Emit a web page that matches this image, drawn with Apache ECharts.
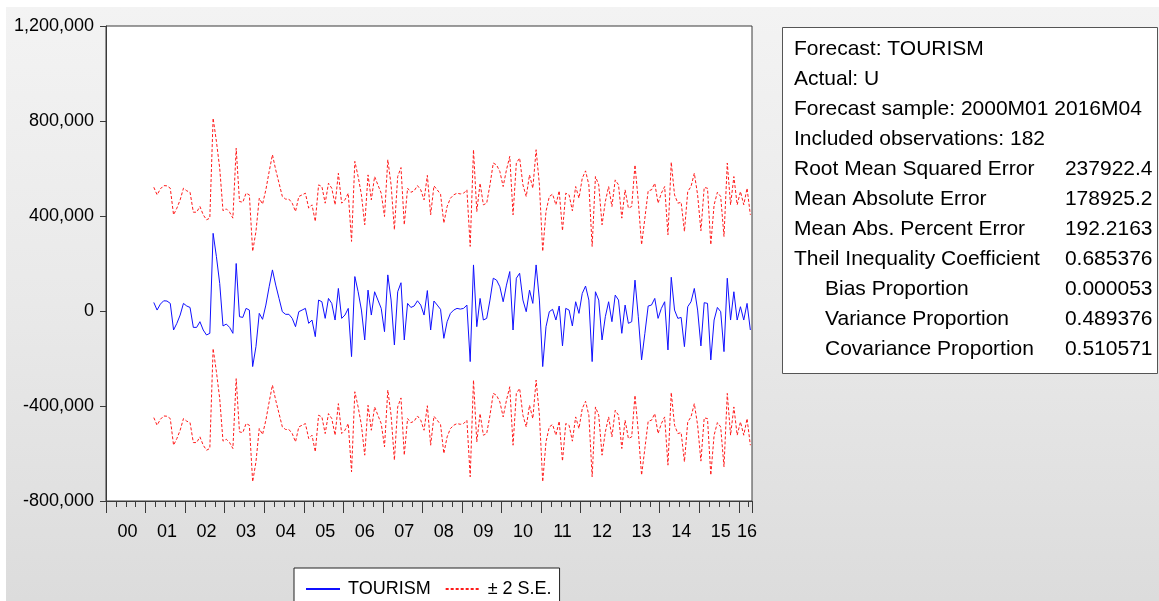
<!DOCTYPE html>
<html>
<head>
<meta charset="utf-8">
<script src="https://cdn.jsdelivr.net/npm/echarts@6/dist/echarts.min.js"></script>
<style>
  html, body { margin: 0; padding: 0; background: #ffffff; }
  #bg { position: absolute; left: 6px; top: 7px; width: 1153px; height: 594px;
        background: linear-gradient(to bottom, #f3f3f3 0%, #e9e9e9 50%, #dcdcdc 100%); }
  #chart { position: absolute; left: 0; top: 0; width: 1159px; height: 601px; }
</style>
</head>
<body>
<div id="bg"></div>
<div id="chart"></div>
<script>
// ---------------- DATA ----------------
const sampleStart = '2000M01';
const sampleEnd = '2016M04';
const firstObs = '2001M03';
// static forecast of TOURISM, 2001M03 .. 2016M04 (182 obs)
const forecast = [
  36000, 4000, 29000, 43000, 42000, 32000, -80000, -52000, -17000, 32000,
  21000, 15000, -69000, -69000, -45000, -80000, -101000, -94000, 327000, 229000,
  116000, -63000, -55000, -69000, -94000, 200000, -24000, -27000, 11000, 4000,
  -234000, -150000, -10000, -35000, 25000, 102000, 173000, 109000, 53000, -3000,
  -14000, -14000, -31000, -66000, -3000, 4000, 11000, -52000, -38000, -108000,
  46000, 39000, -31000, 53000, 32000, -38000, 95000, -31000, -17000, 11000,
  -192000, 145000, 81000, 4000, -122000, 88000, -17000, 81000, 46000, 11000,
  -87000, 152000, 46000, -143000, 81000, 119000, -122000, 32000, 15000, 21000,
  43000, 25000, -17000, 86000, -80000, 42000, 25000, 7000, -115000, -45000,
  -10000, 4000, 11000, 8000, 11000, 25000, -213000, 194000, -66000, 53000,
  -38000, -31000, 46000, 138000, 130000, 102000, 39000, 109000, 166000, -80000,
  138000, 159000, 46000, -3000, 88000, 32000, 194000, 46000, -234000, -66000,
  -3000, 7000, -38000, 21000, -147000, 11000, 4000, -63000, 39000, -10000,
  74000, 105000, 46000, -213000, 81000, 46000, -122000, -24000, 39000, -45000,
  67000, 46000, -94000, 25000, -52000, -45000, 130000, -24000, -206000, -94000,
  21000, 25000, 53000, -31000, 11000, 39000, -164000, 142000, 4000, -31000,
  -27000, -150000, 18000, 39000, 95000, 4000, -147000, 35000, 32000, -206000,
  -38000, 15000, -3000, -171000, 138000, -38000, 81000, -38000, 18000, -38000,
  32000, -80000
];
// two standard errors of the forecast
const twoSE = 485000;

const yTicks = [-800000, -400000, 0, 400000, 800000, 1200000];

const statLabels = [
  'Forecast: TOURISM', 'Actual: U', 'Forecast sample: 2000M01 2016M04',
  'Included observations: 182', 'Root Mean Squared Error', 'Mean Absolute Error',
  'Mean Abs. Percent Error', 'Theil Inequality Coefficient', 'Bias Proportion',
  'Variance Proportion', 'Covariance Proportion'
];
const statValues = [
  '', '', '', '', '237922.4', '178925.2', '192.2163', '0.685376',
  '0.000053', '0.489376', '0.510571'
];
const statIndented = [false, false, false, false, false, false, false, false, true, true, true];

const legendNames = ['TOURISM', '\u00b1 2 S.E.'];

// ---------------- BUILD ----------------
const months = [];
(function () {
  const [sy, sm] = sampleStart.split('M').map(Number);
  const [ey, em] = sampleEnd.split('M').map(Number);
  for (let y = sy; y <= ey; y++) {
    for (let m = 1; m <= 12; m++) {
      if (y === sy && m < sm) continue;
      if (y === ey && m > em) break;
      months.push(y + 'M' + String(m).padStart(2, '0'));
    }
  }
})();
const start = months.indexOf(firstObs);
const fcData = forecast.map((v, k) => [months[start + k], v]);
const upData = forecast.map((v, k) => [months[start + k], v + twoSE]);
const loData = forecast.map((v, k) => [months[start + k], v - twoSE]);

const axisFont = 'Liberation Sans';
const axisSize = 18;
const boxFont = 'Liberation Sans';

const lastIdx = months.length - 1;
function labelShown(i) {
  const m = i % 12;
  const yearStart = i - m;
  const yearLen = Math.min(12, lastIdx - yearStart + 1);
  if (yearLen === 12) return m === 6;
  return m === Math.floor(yearLen / 2);
}

const chart = echarts.init(document.getElementById('chart'), null, { renderer: 'canvas' });

const boxLeft = 782.5, boxTop = 27.5, boxW = 375, boxH = 346;
const gfx = [{
  type: 'rect', shape: { x: boxLeft, y: boxTop, width: boxW, height: boxH },
  style: { fill: '#ffffff', stroke: '#555555', lineWidth: 1 }, z: 10
}];
statLabels.forEach((t, i) => {
  const cy = 49 + i * 30;
  gfx.push({
    type: 'text', x: statIndented[i] ? 825 : 794, y: cy, z: 11,
    style: { text: t, fill: '#000', font: '21px "' + boxFont + '"', textVerticalAlign: 'middle', textAlign: 'left' }
  });
  if (statValues[i]) {
    gfx.push({
      type: 'text', x: 1152.5, y: cy, z: 11,
      style: { text: statValues[i], fill: '#000', font: '21px "' + boxFont + '"', textVerticalAlign: 'middle', textAlign: 'right' }
    });
  }
});

const option = {
  animation: false,
  backgroundColor: 'transparent',
  textStyle: { fontFamily: axisFont },
  grid: {
    left: 106, right: 407, top: 26, bottom: 100,
    show: true, backgroundColor: '#ffffff', borderColor: '#3a3a3a', borderWidth: 1
  },
  legend: {
    left: 294, top: 568,
    padding: [12, 8, 8, 11],
    itemGap: 14, itemWidth: 34, itemHeight: 14,
    backgroundColor: '#ffffff', borderColor: '#222222', borderWidth: 1, borderRadius: 0,
    data: legendNames,
    itemStyle: { opacity: 0 },
    textStyle: { fontFamily: axisFont, fontSize: axisSize, color: '#000', padding: [0, 0, 0, 3] }
  },
  xAxis: [{
    type: 'category', data: months, boundaryGap: true,
    axisLine: { show: true, onZero: false, lineStyle: { color: '#3a3a3a', width: 1 } },
    axisTick: { show: true, inside: false, length: 6, interval: (i) => i % 3 === 0, lineStyle: { color: '#3a3a3a' } },
    axisLabel: {
      show: true, interval: (i) => labelShown(i), margin: 22,
      formatter: (v) => v.slice(2, 4),
      fontFamily: axisFont, fontSize: axisSize, color: '#000'
    },
    splitLine: { show: false }
  }, {
    type: 'category', data: months, boundaryGap: true, position: 'bottom',
    axisLine: { show: false, onZero: false },
    axisTick: { show: true, inside: false, length: 12, interval: (i) => i % 12 === 0, lineStyle: { color: '#3a3a3a' } },
    axisLabel: { show: false },
    splitLine: { show: false }
  }],
  yAxis: {
    type: 'value', min: yTicks[0], max: yTicks[yTicks.length - 1], interval: 400000,
    axisLine: { show: true, lineStyle: { color: '#3a3a3a', width: 1 } },
    axisTick: { show: true, inside: false, length: 6, lineStyle: { color: '#3a3a3a' } },
    axisLabel: {
      margin: 12, fontFamily: axisFont, fontSize: axisSize, color: '#000',
      formatter: (v) => v.toLocaleString('en-US')
    },
    splitLine: { show: false }
  },
  series: [{
    name: legendNames[0], type: 'line', data: fcData, xAxisIndex: 0,
    symbol: 'none', showSymbol: false,
    lineStyle: { color: '#1010ff', width: 1 }, itemStyle: { color: '#1010ff' }, z: 3
  }, {
    name: legendNames[1], type: 'line', data: upData, xAxisIndex: 0,
    symbol: 'none', showSymbol: false,
    lineStyle: { color: '#ff1a1a', width: 1, type: [3, 2] }, itemStyle: { color: '#ff1a1a' }, z: 2
  }, {
    name: legendNames[1], type: 'line', data: loData, xAxisIndex: 0,
    symbol: 'none', showSymbol: false,
    lineStyle: { color: '#ff1a1a', width: 1, type: [3, 2] }, itemStyle: { color: '#ff1a1a' }, z: 2
  }],
  graphic: gfx
};
chart.setOption(option);
</script>
</body>
</html>
